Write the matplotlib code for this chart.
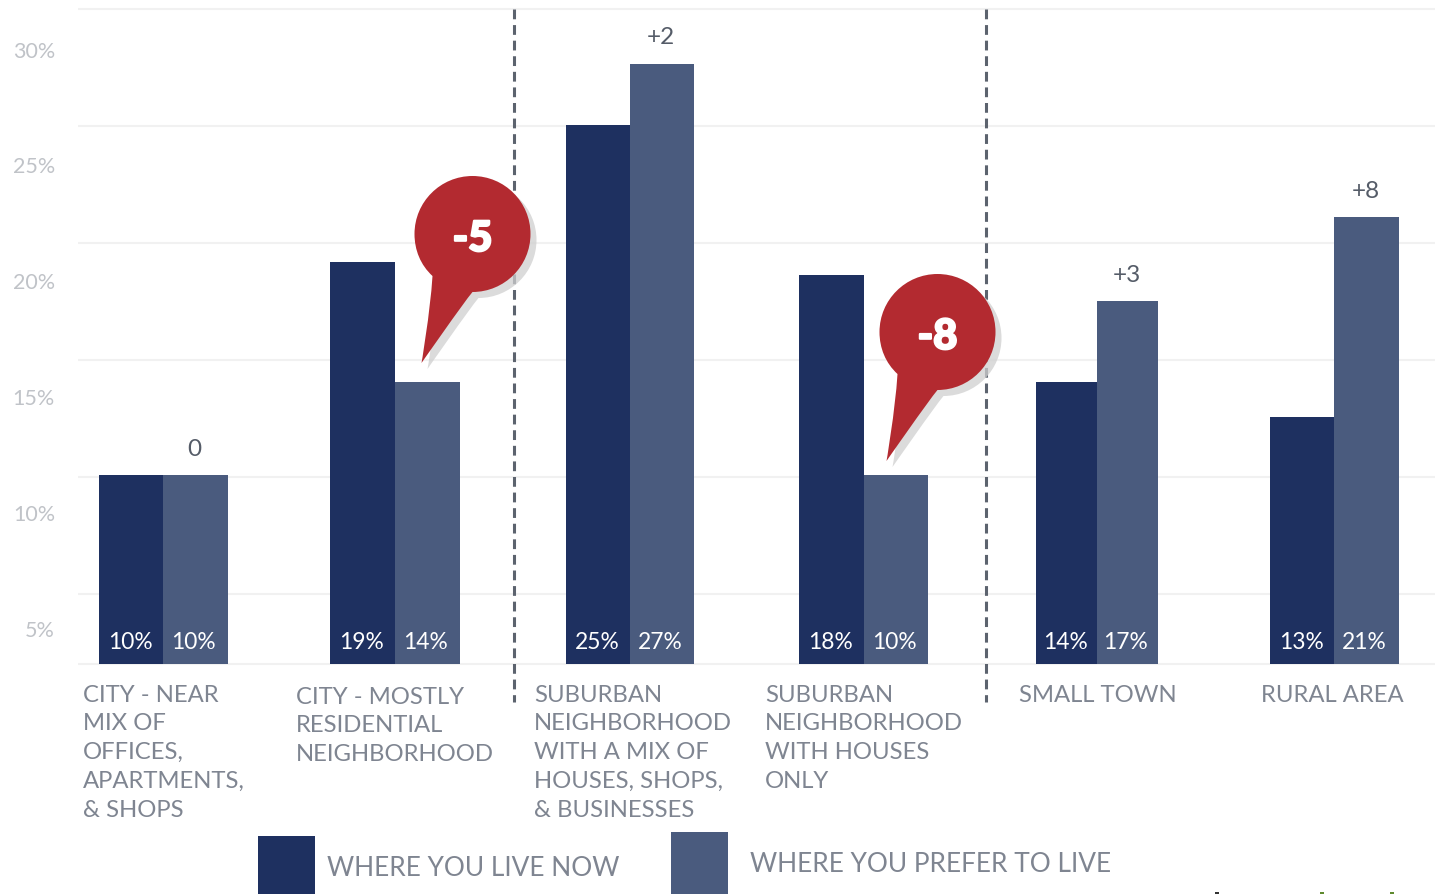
import numpy as np
import matplotlib
matplotlib.use("Agg")
import matplotlib.pyplot as plt
import matplotlib.patheffects as pe
from matplotlib.path import Path
from matplotlib.patches import PathPatch, Rectangle
from matplotlib.transforms import Affine2D

plt.rcParams['font.family'] = ['Lato', 'DejaVu Sans']

# Survey shares, in percent
categories = [
    "CITY - NEAR\nMIX OF\nOFFICES,\nAPARTMENTS,\n& SHOPS",
    "CITY - MOSTLY\nRESIDENTIAL\nNEIGHBORHOOD",
    "SUBURBAN\nNEIGHBORHOOD\nWITH A MIX OF\nHOUSES, SHOPS,\n& BUSINESSES",
    "SUBURBAN\nNEIGHBORHOOD\nWITH HOUSES\nONLY",
    "SMALL TOWN",
    "RURAL AREA",
]
live_now = [10, 19, 25, 18, 14, 13]
prefer = [10, 14, 27, 10, 17, 21]
differences = ["0", "-5", "+2", "-8", "+3", "+8"]
tick_labels = ["5%", "10%", "15%", "20%", "25%", "30%"]
legend_labels = ["WHERE YOU LIVE NOW", "WHERE YOU PREFER TO LIVE"]

# Group layout along the horizontal axis
group_mid = [163, 395, 630, 864, 1097, 1334]
left_width = [64, 65, 64, 65, 61, 64]
right_width = [65, 65, 64, 64, 61, 65]
cat_x = [83, 296, 534, 765, 1019, 1261]
cat_y = [695, 697, 695, 695, 695, 695]

NAVY = "#1e3060"
SLATE = "#4a5b7e"
RED = "#b32a30"
GRID = "#f1f1f1"
LABEL = "#7f8591"
TICK = "#c0c3c8"
NOTE = "#555c68"

W, H = 1450, 894
fig = plt.figure(figsize=(W / 100, H / 100), dpi=100, facecolor="white")

# Full-figure layer in pixel units for the grid, dividers, labels and legend
bg = fig.add_axes([0, 0, 1, 1], zorder=1)
bg.set_xlim(0, W)
bg.set_ylim(H, 0)
bg.axis("off")

BASE, TOP, LEFT, RIGHT = 664, 9, 78, 1435

for gy in [9, 126, 243, 360, 477, 594, 664]:
    bg.plot([LEFT, RIGHT], [gy, gy], color=GRID, lw=1.5, solid_capstyle="butt", zorder=1)

for lab, ty in zip(tick_labels, [631, 515, 399, 283, 167, 52]):
    bg.text(55, ty, lab, color=TICK, fontsize=15.5, ha="right", va="center")

for dx in [514, 986]:
    bg.plot([dx, dx], [9, 702], color="#5c636e", lw=2.2, dashes=(3.2, 1.9), zorder=2)

for name, x0, y0 in zip(categories, cat_x, cat_y):
    for i, line in enumerate(name.split("\n")):
        bg.text(x0, y0 + i * 28.9, line, color=LABEL, fontsize=17.2, ha="left", va="center")

# Legend swatches and captions
bg.add_patch(Rectangle((258, 836), 57, 60, color=NAVY, lw=0))
bg.add_patch(Rectangle((671, 832), 57, 64, color=SLATE, lw=0))
bg.text(327, 868, legend_labels[0], color=LABEL, fontsize=18.9, va="center")
bg.text(750, 864, legend_labels[1], color=LABEL, fontsize=18.9, va="center")

# Clipped footer mark along the bottom edge
for mx, mc in zip([1215, 1320, 1390], ["#333333", "#5f8a2e", "#5f8a2e"]):
    bg.add_patch(Rectangle((mx, 892), 4, 3, color=mc, lw=0))

# Bars: the published graphic is not linear in its values, so the axis
# uses a piecewise scale anchored on the labelled shares.
scale_vals = np.array([0, 10, 13, 14, 17, 18, 19, 21, 25, 27, 30], dtype=float)
scale_high = np.array([0, 189, 247, 282, 363, 389, 402, 447, 539, 600, 655], dtype=float)

ax = fig.add_axes([LEFT / W, 1 - BASE / H, (RIGHT - LEFT) / W, (BASE - TOP) / H], zorder=2)
ax.patch.set_alpha(0)
ax.set_yscale("function", functions=(lambda v: np.interp(v, scale_vals, scale_high),
                                     lambda h: np.interp(h, scale_high, scale_vals)))
ax.set_xlim(LEFT, RIGHT)
ax.set_ylim(0, 30)
ax.axis("off")

mid = np.array(group_mid, dtype=float)
wl = np.array(left_width, dtype=float)
wr = np.array(right_width, dtype=float)
ax.bar(mid - wl, live_now, width=wl, align="edge", color=NAVY, lw=0)
ax.bar(mid, prefer, width=wr, align="edge", color=SLATE, lw=0)

label_tf = ax.get_xaxis_transform()
for m, a, b, v1, v2 in zip(mid, wl, wr, live_now, prefer):
    ax.text(m - a / 2 - 1, 21.5 / 655, f"{v1}%", transform=label_tf, color="white",
            fontsize=16.4, ha="center", va="center")
    ax.text(m + b / 2 - 2, 21.5 / 655, f"{v2}%", transform=label_tf, color="white",
            fontsize=16.4, ha="center", va="center")

# Difference notes above the taller bar; large gaps get a pin instead
for m, b, v1, v2, note in zip(mid, wr, live_now, prefer, differences):
    if note.startswith("-"):
        continue
    xn = m + b / 2 if note != "0" else m + 32
    ax.annotate(note, (xn, max(v1, v2)), xytext=(-1, 26), textcoords="offset pixels",
                color=NOTE, fontsize=17.5, ha="center", va="center")

# Callout pin, described around the centre of its head
R = 58
k = 0.5523 * R
pin_verts = [
    (-40, 42),
    (-42.5, 80), (-51, 129), (-51, 129),
    (-51, 129), (-10, 70), (0, 58),
    (k, 58), (R, k), (R, 0),
    (R, -k), (k, -R), (0, -R),
    (-k, -R), (-R, -k), (-R, 0),
    (-R, 16), (-52, 31), (-40, 42),
    (-40, 42),
]
pin_codes = [Path.MOVETO] + [Path.CURVE4] * 18 + [Path.CLOSEPOLY]
pin = Path(pin_verts, pin_codes)

front = fig.add_axes([0, 0, 1, 1], zorder=3)
front.patch.set_alpha(0)
front.set_xlim(0, W)
front.set_ylim(H, 0)
front.axis("off")

for note, cx, cy in [(differences[1], 472.5, 234), (differences[3], 937.5, 332)]:
    shadow_tf = Affine2D().translate(cx + 6, cy + 6) + front.transData
    body_tf = Affine2D().translate(cx, cy) + front.transData
    front.add_patch(PathPatch(pin, facecolor="#cfcfcf", alpha=0.75, lw=0, transform=shadow_tf, zorder=1))
    front.add_patch(PathPatch(pin, facecolor=RED, lw=0, transform=body_tf, zorder=2))
    front.text(cx, cy + 5, note, color="white", fontsize=30, fontweight="black",
               ha="center", va="center", zorder=3,
               path_effects=[pe.withStroke(linewidth=1.6, foreground="white")])

fig.savefig("out.png", dpi=100, facecolor="white")
